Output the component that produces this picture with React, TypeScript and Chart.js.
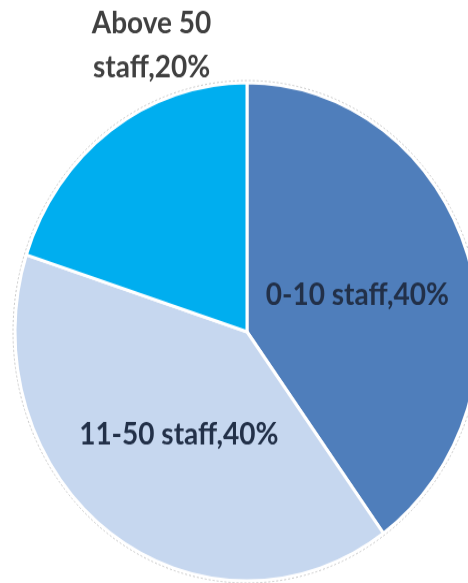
import React, { useEffect, useRef } from "react";
import { Chart, registerables } from "chart.js";

Chart.register(...registerables);

const categories = ["0-10 staff", "11-50 staff", "Above 50 staff"];
const shares = [40, 40, 20];
const labelLines = [["0-10 staff,40%"], ["11-50 staff,40%"], ["Above 50", "staff,20%"]];
const colors = ["#4F7EBB", "#C6D7EF", "#00AEEF"];

const STRETCH = 583 / 543;

const labelPlugin = {
  id: "sliceLabels",
  afterDatasetsDraw(chart: any) {
    const ctx = chart.ctx;
    const meta = chart.getDatasetMeta(0);
    ctx.save();
    // faint dashed outline around the pie
    const a0 = meta.data[0];
    ctx.beginPath();
    ctx.setLineDash([2, 2]);
    ctx.strokeStyle = "#c8c8c8";
    ctx.lineWidth = 1;
    ctx.arc(a0.x, a0.y, a0.outerRadius + 2, 0, Math.PI * 2);
    ctx.stroke();
    ctx.setLineDash([]);

    ctx.font = "bold 28px Lato, 'Open Sans', sans-serif";
    ctx.textAlign = "center";
    ctx.textBaseline = "middle";
    meta.data.forEach((arc: any, i: number) => {
      const lines = labelLines[i];
      if (lines.length === 1) {
        const c = arc.getCenterPoint();
        ctx.fillStyle = "#223048";
        ctx.fillText(lines[0], c.x, c.y + 2);
      } else {
        const mid = (arc.startAngle + arc.endAngle) / 2;
        const x = arc.x + Math.cos(mid) * arc.outerRadius * 0.7;
        const yc = arc.y - arc.outerRadius - 35;
        ctx.fillStyle = "#404040";
        ctx.fillText(lines[0], x, yc - 20);
        ctx.fillText(lines[1], x, yc + 21);
      }
    });
    ctx.restore();
  },
};

export default function App() {
  const ref = useRef<HTMLCanvasElement | null>(null);
  useEffect(() => {
    if (!ref.current) return;
    const chart = new Chart(ref.current, {
      type: "pie",
      data: {
        labels: categories,
        datasets: [
          {
            data: shares,
            backgroundColor: colors,
            borderColor: "#ffffff",
            borderWidth: 3,
            radius: 232,
          },
        ],
      },
      options: {
        responsive: false,
        animation: false,
        devicePixelRatio: 1,
        layout: { padding: { left: 15, right: 15, top: 77, bottom: 2 } },
        plugins: {
          legend: { display: false },
          tooltip: { enabled: false },
        },
      },
      plugins: [labelPlugin],
    });
    return () => chart.destroy();
  }, []);
  return (
    <div
      style={{
        position: "fixed",
        left: 0,
        top: 0,
        width: 468,
        height: 583,
        overflow: "hidden",
        background: "#ffffff",
      }}
    >
      <canvas
        ref={ref}
        width={494}
        height={543}
        style={{ width: "494px", height: `${543 * STRETCH}px`, display: "block" }}
      />
    </div>
  );
}
